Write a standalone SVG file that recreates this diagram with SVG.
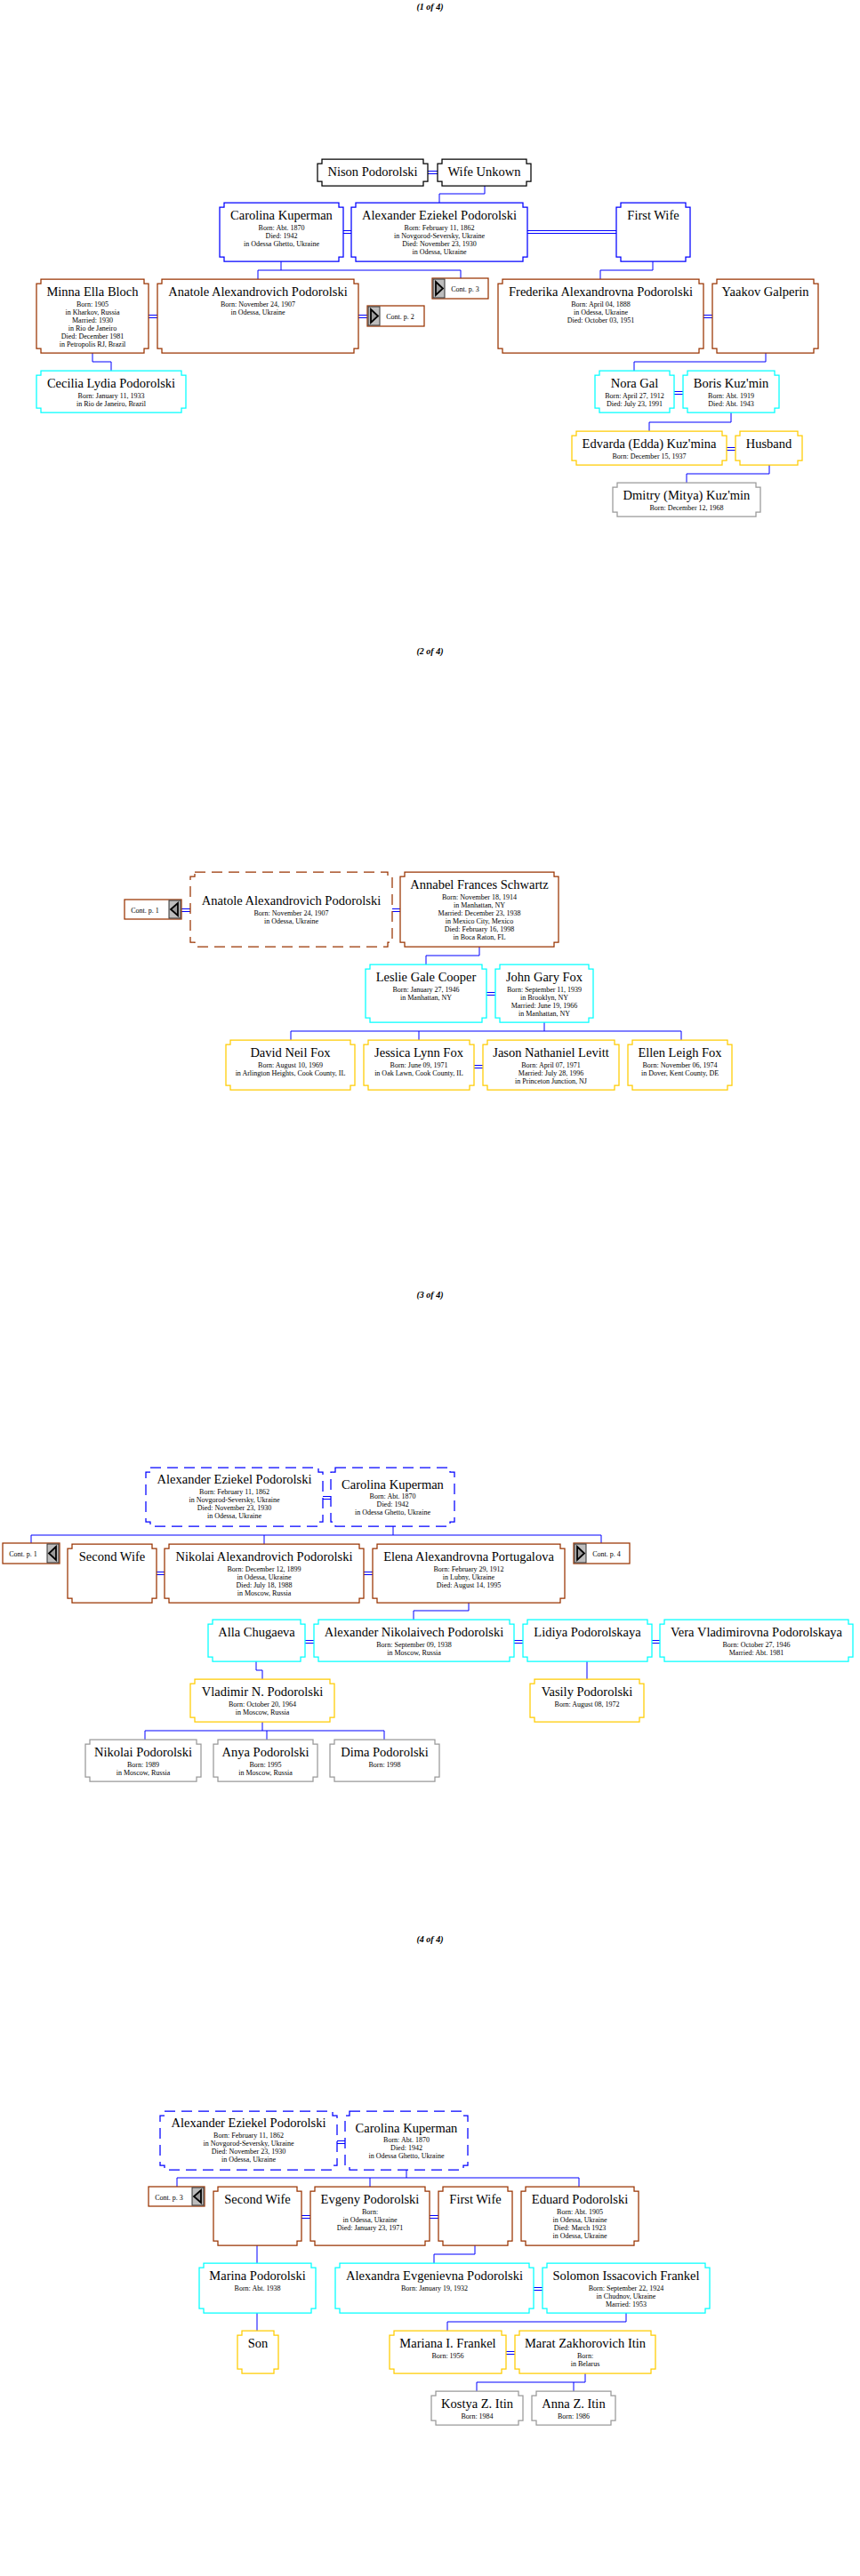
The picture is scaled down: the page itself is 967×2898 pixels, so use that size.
<svg xmlns="http://www.w3.org/2000/svg" width="967" height="2898" viewBox="0 0 967 2898">
<style>
.bg{fill:#fff}
.b{fill:#fff;stroke-width:1.25}
.blk{stroke:#000}.blu{stroke:#0000ff}.brn{stroke:#993300}.cyn{stroke:#00ffff}.gld{stroke:#ffcc00}.gry{stroke:#999999}
.d{stroke-dasharray:12 7}
.n{font-family:"Liberation Serif","Times New Roman",serif;font-size:14.5px;text-anchor:middle;fill:#000}
.t{font-family:"Liberation Serif","Times New Roman",serif;font-size:8px;text-anchor:middle;fill:#000}
.ttl{font-family:"Liberation Serif","Times New Roman",serif;font-size:10px;font-weight:bold;font-style:italic;text-anchor:middle;fill:#000}
.c{stroke:#0000ff;stroke-width:1;fill:none}
.cb{fill:#fff;stroke:#993300;stroke-width:1.25}
.ic{fill:#bdbdbd;stroke:#333;stroke-width:1}
.tri{fill:#9a9a9a;stroke:#000;stroke-width:1.8}
</style>
<rect class="bg" x="0" y="0" width="967" height="2898"/>
<g id="titles">
<text class="ttl" x="483.5" y="11">(1 of 4)</text>
<text class="ttl" x="483.5" y="735.5">(2 of 4)</text>
<text class="ttl" x="483.5" y="1460">(3 of 4)</text>
<text class="ttl" x="483.5" y="2184.5">(4 of 4)</text>
</g>
<g id="connectors">
<path class="c" d="M481 192.5H492M481 195.5H492M545 209V218H494V228"/>
<path class="c" d="M386 259.5H395M386 262.5H395M593 259.5H693M593 262.5H693"/>
<path class="c" d="M316 294V304M290 304H518M290 304V314M518 304V313"/>
<path class="c" d="M167 354.5H177M167 357.5H177M403 354.5H413M403 357.5H413M104 397V407H125V417"/>
<path class="c" d="M734 294V304H675V314M791 354.5H801M791 357.5H801M861 397V407H713V417"/>
<path class="c" d="M758 440.5H768M758 443.5H768M822 464V475H730V485M817 503.5H827M817 506.5H827M865 523V533H772V543"/>
<path class="c" d="M204 1022.5H214M204 1025.5H214M441 1022.5H450M441 1025.5H450M539 1065V1075H479V1085"/>
<path class="c" d="M547 1116.5H557M547 1119.5H557M612 1150V1160M327 1160H766M327 1160V1170M471 1160V1170M766 1160V1170M533 1198.5H543M533 1201.5H543"/>
<path class="c" d="M363 1683.5H372M363 1686.5H372M442 1717V1727M35 1727H676M35 1727V1736M297 1727V1737M676 1727V1736"/>
<path class="c" d="M176 1768.5H185M176 1771.5H185M409 1768.5H419M409 1771.5H419M527 1803V1812H465V1822"/>
<path class="c" d="M343 1845.5H353M343 1848.5H353M578 1845.5H588M578 1848.5H588M733 1845.5H742M733 1848.5H742"/>
<path class="c" d="M288 1869V1879H295V1889M660 1869V1889M295 1937V1947M163 1947H432M163 1947V1957M300 1947V1957M432 1947V1957"/>
<path class="c" d="M379 2408.5H388M379 2411.5H388M457 2441V2450M199 2450H651M199 2450V2460M416 2450V2460M651 2450V2460"/>
<path class="c" d="M339 2492.5H349M339 2495.5H349M483 2492.5H493M483 2495.5H493M289 2526V2546M534 2526V2536H488V2546"/>
<path class="c" d="M600 2573.5H610M600 2576.5H610M289 2602V2622M704 2602V2612H503V2622M569 2645.5H579M569 2648.5H579"/>
<path class="c" d="M658 2670V2680M536 2680H658M536 2680V2690M645 2680V2690"/>
</g>
<!-- Page 1 -->
<g id="nison" transform="translate(357,179)"><path class="b blk" d="M5 0h114v5h5v20h-5v5h-114v-5h-5v-20h5z"/><text class="n" x="62" y="19">Nison Podorolski</text></g>
<g id="wife-unkown" transform="translate(492,179)"><path class="b blk" d="M5 0h95v5h5v20h-5v5h-95v-5h-5v-20h5z"/><text class="n" x="52.5" y="19">Wife Unkown</text></g>
<g id="carolina-1" transform="translate(247,228)"><path class="b blu" d="M5 0h129v5h5v56h-5v5h-129v-5h-5v-56h5z"/><text class="n" x="69.5" y="19">Carolina Kuperman</text><text class="t" x="69.5" y="30.5">Born: Abt. 1870</text><text class="t" x="69.5" y="39.5">Died: 1942</text><text class="t" x="69.5" y="48.5">in Odessa Ghetto, Ukraine</text></g>
<g id="alexander-1" transform="translate(395,228)"><path class="b blu" d="M5 0h188v5h5v56h-5v5h-188v-5h-5v-56h5z"/><text class="n" x="99" y="19">Alexander Eziekel Podorolski</text><text class="t" x="99" y="30.5">Born: February 11, 1862</text><text class="t" x="99" y="39.5">in Novgorod-Seversky, Ukraine</text><text class="t" x="99" y="48.5">Died: November 23, 1930</text><text class="t" x="99" y="57.5">in Odessa, Ukraine</text></g>
<g id="first-wife-1" transform="translate(693,228)"><path class="b blu" d="M5 0h73v5h5v56h-5v5h-73v-5h-5v-56h5z"/><text class="n" x="41.5" y="19">First Wife</text></g>
<g id="minna" transform="translate(41,314)"><path class="b brn" d="M5 0h116v5h5v73h-5v5h-116v-5h-5v-73h5z"/><text class="n" x="63" y="19">Minna Ella Bloch</text><text class="t" x="63" y="30.5">Born: 1905</text><text class="t" x="63" y="39.5">in Kharkov, Russia</text><text class="t" x="63" y="48.5">Married: 1930</text><text class="t" x="63" y="57.5">in Rio de Janeiro</text><text class="t" x="63" y="66.5">Died: December 1981</text><text class="t" x="63" y="75.5">in Petropolis RJ, Brazil</text></g>
<g id="anatole-1" transform="translate(177,314)"><path class="b brn" d="M5 0h216v5h5v73h-5v5h-216v-5h-5v-73h5z"/><text class="n" x="113" y="19">Anatole Alexandrovich Podorolski</text><text class="t" x="113" y="30.5">Born: November 24, 1907</text><text class="t" x="113" y="39.5">in Odessa, Ukraine</text></g>
<g id="cont-p2" transform="translate(413,344)"><rect class="cb" x="0" y="0" width="64" height="23"/><rect class="ic" x="1" y="1" width="13" height="21"/><polygon class="tri" points="4,4 12,11.5 4,19"/><text class="t" x="37" y="15">Cont. p. 2</text></g>
<g id="cont-p3" transform="translate(486,313)"><rect class="cb" x="0" y="0" width="63" height="23"/><rect class="ic" x="1" y="1" width="13" height="21"/><polygon class="tri" points="4,4 12,11.5 4,19"/><text class="t" x="37" y="15">Cont. p. 3</text></g>
<g id="cecilia" transform="translate(41,417)"><path class="b cyn" d="M5 0h158v5h5v37h-5v5h-158v-5h-5v-37h5z"/><text class="n" x="84" y="19">Cecilia Lydia Podorolski</text><text class="t" x="84" y="30.5">Born: January 11, 1933</text><text class="t" x="84" y="39.5">in Rio de Janeiro, Brazil</text></g>
<g id="frederika" transform="translate(560,314)"><path class="b brn" d="M5 0h221v5h5v73h-5v5h-221v-5h-5v-73h5z"/><text class="n" x="115.5" y="19">Frederika Alexandrovna Podorolski</text><text class="t" x="115.5" y="30.5">Born: April 04, 1888</text><text class="t" x="115.5" y="39.5">in Odessa, Ukraine</text><text class="t" x="115.5" y="48.5">Died: October 03, 1951</text></g>
<g id="yaakov" transform="translate(801,314)"><path class="b brn" d="M5 0h109v5h5v73h-5v5h-109v-5h-5v-73h5z"/><text class="n" x="59.5" y="19">Yaakov Galperin</text></g>
<g id="nora" transform="translate(669,417)"><path class="b cyn" d="M5 0h79v5h5v37h-5v5h-79v-5h-5v-37h5z"/><text class="n" x="44.5" y="19">Nora Gal</text><text class="t" x="44.5" y="30.5">Born: April 27, 1912</text><text class="t" x="44.5" y="39.5">Died: July 23, 1991</text></g>
<g id="boris" transform="translate(768,417)"><path class="b cyn" d="M5 0h98v5h5v37h-5v5h-98v-5h-5v-37h5z"/><text class="n" x="54" y="19">Boris Kuz'min</text><text class="t" x="54" y="30.5">Born: Abt. 1919</text><text class="t" x="54" y="39.5">Died: Abt. 1943</text></g>
<g id="edvarda" transform="translate(643,485)"><path class="b gld" d="M5 0h164v5h5v28h-5v5h-164v-5h-5v-28h5z"/><text class="n" x="87" y="19">Edvarda (Edda) Kuz'mina</text><text class="t" x="87" y="30.5">Born: December 15, 1937</text></g>
<g id="husband" transform="translate(827,485)"><path class="b gld" d="M5 0h65v5h5v28h-5v5h-65v-5h-5v-28h5z"/><text class="n" x="37.5" y="19">Husband</text></g>
<g id="dmitry" transform="translate(689,543)"><path class="b gry" d="M5 0h156v5h5v28h-5v5h-156v-5h-5v-28h5z"/><text class="n" x="83" y="19">Dmitry (Mitya) Kuz'min</text><text class="t" x="83" y="30.5">Born: December 12, 1968</text></g>
<!-- Page 2 -->
<g id="cont-p1-a" transform="translate(140,1012)"><rect class="cb" x="0" y="0" width="64" height="22"/><rect class="ic" x="50" y="1" width="13" height="20"/><polygon class="tri" points="60,4 52,11 60,18"/><text class="t" x="23" y="14.5">Cont. p. 1</text></g>
<g id="anatole-2" transform="translate(214,981)"><path class="b brn d" d="M5 0h217v5h5v74h-5v5h-217v-5h-5v-74h5z"/><text class="n" x="113.5" y="37">Anatole Alexandrovich Podorolski</text><text class="t" x="113.5" y="48.5">Born: November 24, 1907</text><text class="t" x="113.5" y="57.5">in Odessa, Ukraine</text></g>
<g id="annabel" transform="translate(450,981)"><path class="b brn" d="M5 0h168v5h5v74h-5v5h-168v-5h-5v-74h5z"/><text class="n" x="89" y="18.5">Annabel Frances Schwartz</text><text class="t" x="89" y="31">Born: November 18, 1914</text><text class="t" x="89" y="40">in Manhattan, NY</text><text class="t" x="89" y="49">Married: December 23, 1938</text><text class="t" x="89" y="58">in Mexico City, Mexico</text><text class="t" x="89" y="67">Died: February 16, 1998</text><text class="t" x="89" y="76">in Boca Raton, FL</text></g>
<g id="leslie" transform="translate(411,1085)"><path class="b cyn" d="M5 0h126v5h5v55h-5v5h-126v-5h-5v-55h5z"/><text class="n" x="68" y="19">Leslie Gale Cooper</text><text class="t" x="68" y="30.5">Born: January 27, 1946</text><text class="t" x="68" y="39.5">in Manhattan, NY</text></g>
<g id="john" transform="translate(557,1085)"><path class="b cyn" d="M5 0h100v5h5v55h-5v5h-100v-5h-5v-55h5z"/><text class="n" x="55" y="19">John Gary Fox</text><text class="t" x="55" y="30.5">Born: September 11, 1939</text><text class="t" x="55" y="39.5">in Brooklyn, NY</text><text class="t" x="55" y="48.5">Married: June 19, 1966</text><text class="t" x="55" y="57.5">in Manhattan, NY</text></g>
<g id="david" transform="translate(254,1170)"><path class="b gld" d="M5 0h135v5h5v46h-5v5h-135v-5h-5v-46h5z"/><text class="n" x="72.5" y="19">David Neil Fox</text><text class="t" x="72.5" y="30.5">Born: August 10, 1969</text><text class="t" x="72.5" y="39.5">in Arlington Heights, Cook County, IL</text></g>
<g id="jessica" transform="translate(409,1170)"><path class="b gld" d="M5 0h114v5h5v46h-5v5h-114v-5h-5v-46h5z"/><text class="n" x="62" y="19">Jessica Lynn Fox</text><text class="t" x="62" y="30.5">Born: June 09, 1971</text><text class="t" x="62" y="39.5">in Oak Lawn, Cook County, IL</text></g>
<g id="jason" transform="translate(543,1170)"><path class="b gld" d="M5 0h143v5h5v46h-5v5h-143v-5h-5v-46h5z"/><text class="n" x="76.5" y="19">Jason Nathaniel Levitt</text><text class="t" x="76.5" y="30.5">Born: April 07, 1971</text><text class="t" x="76.5" y="39.5">Married: July 28, 1996</text><text class="t" x="76.5" y="48.5">in Princeton Junction, NJ</text></g>
<g id="ellen" transform="translate(706,1170)"><path class="b gld" d="M5 0h107v5h5v46h-5v5h-107v-5h-5v-46h5z"/><text class="n" x="58.5" y="19">Ellen Leigh Fox</text><text class="t" x="58.5" y="30.5">Born: November 06, 1974</text><text class="t" x="58.5" y="39.5">in Dover, Kent County, DE</text></g>
<!-- Page 3 -->
<g id="alexander-3" transform="translate(164,1651)"><path class="b blu d" d="M5 0h189v5h5v56h-5v5h-189v-5h-5v-56h5z"/><text class="n" x="99.5" y="18">Alexander Eziekel Podorolski</text><text class="t" x="99.5" y="30">Born: February 11, 1862</text><text class="t" x="99.5" y="39">in Novgorod-Seversky, Ukraine</text><text class="t" x="99.5" y="48">Died: November 23, 1930</text><text class="t" x="99.5" y="57">in Odessa, Ukraine</text></g>
<g id="carolina-3" transform="translate(372,1651)"><path class="b blu d" d="M5 0h129v5h5v56h-5v5h-129v-5h-5v-56h5z"/><text class="n" x="69.5" y="24">Carolina Kuperman</text><text class="t" x="69.5" y="35">Born: Abt. 1870</text><text class="t" x="69.5" y="44">Died: 1942</text><text class="t" x="69.5" y="53">in Odessa Ghetto, Ukraine</text></g>
<g id="cont-p1-b" transform="translate(3,1736)"><rect class="cb" x="0" y="0" width="64" height="23"/><rect class="ic" x="50" y="1" width="13" height="21"/><polygon class="tri" points="60,4 52,11.5 60,19"/><text class="t" x="23" y="15">Cont. p. 1</text></g>
<g id="second-wife-3" transform="translate(76,1737)"><path class="b brn" d="M5 0h90v5h5v56h-5v5h-90v-5h-5v-56h5z"/><text class="n" x="50" y="19">Second Wife</text></g>
<g id="nikolai" transform="translate(185,1737)"><path class="b brn" d="M5 0h214v5h5v56h-5v5h-214v-5h-5v-56h5z"/><text class="n" x="112" y="19">Nikolai Alexandrovich Podorolski</text><text class="t" x="112" y="30.5">Born: December 12, 1899</text><text class="t" x="112" y="39.5">in Odessa, Ukraine</text><text class="t" x="112" y="48.5">Died: July 18, 1988</text><text class="t" x="112" y="57.5">in Moscow, Russia</text></g>
<g id="elena" transform="translate(419,1737)"><path class="b brn" d="M5 0h206v5h5v56h-5v5h-206v-5h-5v-56h5z"/><text class="n" x="108" y="19">Elena Alexandrovna Portugalova</text><text class="t" x="108" y="30.5">Born: February 29, 1912</text><text class="t" x="108" y="39.5">in Lubny, Ukraine</text><text class="t" x="108" y="48.5">Died: August 14, 1995</text></g>
<g id="cont-p4" transform="translate(645,1736)"><rect class="cb" x="0" y="0" width="63" height="23"/><rect class="ic" x="1" y="1" width="13" height="21"/><polygon class="tri" points="4,4 12,11.5 4,19"/><text class="t" x="37" y="15">Cont. p. 4</text></g>
<g id="alla" transform="translate(234,1822)"><path class="b cyn" d="M5 0h99v5h5v37h-5v5h-99v-5h-5v-37h5z"/><text class="n" x="54.5" y="19">Alla Chugaeva</text></g>
<g id="alexander-n" transform="translate(353,1822)"><path class="b cyn" d="M5 0h215v5h5v37h-5v5h-215v-5h-5v-37h5z"/><text class="n" x="112.5" y="19">Alexander Nikolaivech Podorolski</text><text class="t" x="112.5" y="30.5">Born: September 09, 1938</text><text class="t" x="112.5" y="39.5">in Moscow, Russia</text></g>
<g id="lidiya" transform="translate(588,1822)"><path class="b cyn" d="M5 0h135v5h5v37h-5v5h-135v-5h-5v-37h5z"/><text class="n" x="72.5" y="19">Lidiya Podorolskaya</text></g>
<g id="vera" transform="translate(742,1822)"><path class="b cyn" d="M5 0h207v5h5v37h-5v5h-207v-5h-5v-37h5z"/><text class="n" x="108.5" y="19">Vera Vladimirovna Podorolskaya</text><text class="t" x="108.5" y="30.5">Born: October 27, 1946</text><text class="t" x="108.5" y="39.5">Married: Abt. 1981</text></g>
<g id="vladimir" transform="translate(214,1889)"><path class="b gld" d="M5 0h152v5h5v38h-5v5h-152v-5h-5v-38h5z"/><text class="n" x="81" y="19">Vladimir N. Podorolski</text><text class="t" x="81" y="30.5">Born: October 20, 1964</text><text class="t" x="81" y="39.5">in Moscow, Russia</text></g>
<g id="vasily" transform="translate(596,1889)"><path class="b gld" d="M5 0h118v5h5v38h-5v5h-118v-5h-5v-38h5z"/><text class="n" x="64" y="19">Vasily Podorolski</text><text class="t" x="64" y="30.5">Born: August 08, 1972</text></g>
<g id="nikolai-p" transform="translate(96,1957)"><path class="b gry" d="M5 0h120v5h5v37h-5v5h-120v-5h-5v-37h5z"/><text class="n" x="65" y="19">Nikolai Podorolski</text><text class="t" x="65" y="30.5">Born: 1989</text><text class="t" x="65" y="39.5">in Moscow, Russia</text></g>
<g id="anya" transform="translate(240,1957)"><path class="b gry" d="M5 0h107v5h5v37h-5v5h-107v-5h-5v-37h5z"/><text class="n" x="58.5" y="19">Anya Podorolski</text><text class="t" x="58.5" y="30.5">Born: 1995</text><text class="t" x="58.5" y="39.5">in Moscow, Russia</text></g>
<g id="dima" transform="translate(371,1957)"><path class="b gry" d="M5 0h113v5h5v37h-5v5h-113v-5h-5v-37h5z"/><text class="n" x="61.5" y="19">Dima Podorolski</text><text class="t" x="61.5" y="30.5">Born: 1998</text></g>
<!-- Page 4 -->
<g id="alexander-4" transform="translate(180,2375)"><path class="b blu d" d="M5 0h189v5h5v56h-5v5h-189v-5h-5v-56h5z"/><text class="n" x="99.5" y="18">Alexander Eziekel Podorolski</text><text class="t" x="99.5" y="30">Born: February 11, 1862</text><text class="t" x="99.5" y="39">in Novgorod-Seversky, Ukraine</text><text class="t" x="99.5" y="48">Died: November 23, 1930</text><text class="t" x="99.5" y="57">in Odessa, Ukraine</text></g>
<g id="carolina-4" transform="translate(388,2375)"><path class="b blu d" d="M5 0h128v5h5v56h-5v5h-128v-5h-5v-56h5z"/><text class="n" x="69" y="24">Carolina Kuperman</text><text class="t" x="69" y="35">Born: Abt. 1870</text><text class="t" x="69" y="44">Died: 1942</text><text class="t" x="69" y="53">in Odessa Ghetto, Ukraine</text></g>
<g id="cont-p3-b" transform="translate(167,2460)"><rect class="cb" x="0" y="0" width="63" height="22"/><rect class="ic" x="49" y="1" width="13" height="20"/><polygon class="tri" points="59,4 51,11 59,18"/><text class="t" x="23" y="14.5">Cont. p. 3</text></g>
<g id="second-wife-4" transform="translate(240,2460)"><path class="b brn" d="M5 0h89v5h5v56h-5v5h-89v-5h-5v-56h5z"/><text class="n" x="49.5" y="19">Second Wife</text></g>
<g id="evgeny" transform="translate(349,2460)"><path class="b brn" d="M5 0h124v5h5v56h-5v5h-124v-5h-5v-56h5z"/><text class="n" x="67" y="19">Evgeny Podorolski</text><text class="t" x="67" y="30.5">Born:</text><text class="t" x="67" y="39.5">in Odessa, Ukraine</text><text class="t" x="67" y="48.5">Died: January 23, 1971</text></g>
<g id="first-wife-4" transform="translate(493,2460)"><path class="b brn" d="M5 0h73v5h5v56h-5v5h-73v-5h-5v-56h5z"/><text class="n" x="41.5" y="19">First Wife</text></g>
<g id="eduard" transform="translate(586,2460)"><path class="b brn" d="M5 0h122v5h5v56h-5v5h-122v-5h-5v-56h5z"/><text class="n" x="66" y="19">Eduard Podorolski</text><text class="t" x="66" y="30.5">Born: Abt. 1905</text><text class="t" x="66" y="39.5">in Odessa, Ukraine</text><text class="t" x="66" y="48.5">Died: March 1923</text><text class="t" x="66" y="57.5">in Odessa, Ukraine</text></g>
<g id="marina" transform="translate(224,2546)"><path class="b cyn" d="M5 0h121v5h5v46h-5v5h-121v-5h-5v-46h5z"/><text class="n" x="65.5" y="19">Marina Podorolski</text><text class="t" x="65.5" y="30.5">Born: Abt. 1938</text></g>
<g id="alexandra" transform="translate(377,2546)"><path class="b cyn" d="M5 0h213v5h5v46h-5v5h-213v-5h-5v-46h5z"/><text class="n" x="111.5" y="19">Alexandra Evgenievna Podorolski</text><text class="t" x="111.5" y="30.5">Born: January 19, 1932</text></g>
<g id="solomon" transform="translate(610,2546)"><path class="b cyn" d="M5 0h178v5h5v46h-5v5h-178v-5h-5v-46h5z"/><text class="n" x="94" y="19">Solomon Issacovich Frankel</text><text class="t" x="94" y="30.5">Born: September 22, 1924</text><text class="t" x="94" y="39.5">in Chudnov, Ukraine</text><text class="t" x="94" y="48.5">Married: 1953</text></g>
<g id="son" transform="translate(267,2622)"><path class="b gld" d="M5 0h36v5h5v38h-5v5h-36v-5h-5v-38h5z"/><text class="n" x="23" y="19">Son</text></g>
<g id="mariana" transform="translate(438,2622)"><path class="b gld" d="M5 0h121v5h5v38h-5v5h-121v-5h-5v-38h5z"/><text class="n" x="65.5" y="19">Mariana I. Frankel</text><text class="t" x="65.5" y="30.5">Born: 1956</text></g>
<g id="marat" transform="translate(579,2622)"><path class="b gld" d="M5 0h148v5h5v38h-5v5h-148v-5h-5v-38h5z"/><text class="n" x="79" y="19">Marat Zakhorovich Itin</text><text class="t" x="79" y="30.5">Born:</text><text class="t" x="79" y="39.5">in Belarus</text></g>
<g id="kostya" transform="translate(485,2690)"><path class="b gry" d="M5 0h93v5h5v28h-5v5h-93v-5h-5v-28h5z"/><text class="n" x="51.5" y="19">Kostya Z. Itin</text><text class="t" x="51.5" y="30.5">Born: 1984</text></g>
<g id="anna" transform="translate(598,2690)"><path class="b gry" d="M5 0h84v5h5v28h-5v5h-84v-5h-5v-28h5z"/><text class="n" x="47" y="19">Anna Z. Itin</text><text class="t" x="47" y="30.5">Born: 1986</text></g>
</svg>
